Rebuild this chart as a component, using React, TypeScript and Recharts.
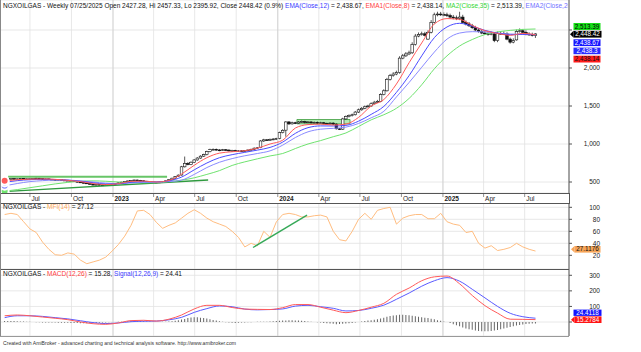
import React from 'react'
import {
    ComposedChart, Bar, Line, XAxis, YAxis, CartesianGrid, ReferenceLine, ReferenceArea
} from 'recharts'

// weekly bars, week 0 = 05/06/2022, last week 168 = 07/25/2025
const OPEN = [
    520, 528, 540, 546, 538, 542, 548, 541, 536, 542,
    546, 550, 544, 538, 541, 536, 532, 528, 531, 525,
    519, 522, 515, 508, 500, 494, 487, 480, 470, 463,
    468, 461, 457, 464, 467, 472, 480, 490, 498, 506,
    514, 521, 526, 522, 516, 510, 504, 500, 497, 494,
    499, 504, 515, 530, 550, 570, 592, 700, 745, 730,
    760, 790, 815, 840, 860, 900, 925, 930, 922, 918,
    925, 920, 910, 915, 905, 910, 905, 912, 920, 930,
    945, 952, 1040, 1055, 1050, 1060, 1065, 1072, 1150, 1182,
    1290, 1265, 1280, 1275, 1290, 1295, 1285, 1290, 1280, 1285,
    1275, 1280, 1270, 1265, 1275, 1262, 1200, 1195, 1330, 1360,
    1375, 1385, 1420, 1450, 1470, 1490, 1500, 1530, 1550, 1560,
    1650, 1700, 1850, 1900, 1920, 1940, 2130, 2160, 2185, 2200,
    2310, 2420, 2440, 2450, 2380, 2470, 2600, 2700, 2710, 2705,
    2700, 2690, 2670, 2660, 2650, 2670, 2600, 2580, 2555, 2530,
    2500, 2480, 2460, 2450, 2445, 2450, 2360, 2455, 2455, 2450,
    2380, 2340, 2370, 2480, 2490, 2470, 2445, 2440, 2427.28,
]
const HIGH = [
    534, 546, 552, 551, 547, 553, 552, 545, 547, 551,
    556, 554, 548, 546, 545, 540, 536, 536, 535, 529,
    527, 526, 519, 512, 504, 498, 491, 484, 474, 473,
    472, 465, 469, 472, 477, 485, 495, 503, 511, 519,
    526, 531, 531, 527, 521, 515, 509, 505, 502, 504,
    510, 521, 537, 557, 578, 600, 712, 835, 760, 772,
    802, 828, 852, 872, 912, 938, 942, 940, 932, 935,
    934, 930, 924, 924, 919, 918, 920, 928, 940, 955,
    960, 1050, 1068, 1066, 1072, 1078, 1082, 1162, 1195, 1300,
    1302, 1294, 1292, 1303, 1310, 1306, 1302, 1300, 1296, 1296,
    1292, 1290, 1282, 1286, 1286, 1272, 1210, 1345, 1375, 1390,
    1400, 1435, 1466, 1486, 1506, 1516, 1548, 1568, 1580, 1668,
    1720, 1870, 1922, 1945, 1965, 2155, 2185, 2210, 2228, 2338,
    2448, 2468, 2478, 2476, 2495, 2630, 2728, 2740, 2738, 2732,
    2728, 2715, 2698, 2690, 2740, 2700, 2625, 2605, 2580, 2555,
    2525, 2505, 2488, 2478, 2480, 2472, 2480, 2485, 2482, 2470,
    2400, 2390, 2505, 2520, 2512, 2495, 2470, 2465, 2457.33,
]
const LOW = [
    514, 522, 535, 533, 532, 536, 535, 530, 530, 536,
    540, 538, 532, 532, 530, 526, 522, 522, 519, 513,
    513, 509, 502, 494, 488, 481, 474, 464, 457, 457,
    455, 451, 452, 459, 462, 467, 475, 485, 493, 501,
    509, 516, 516, 510, 504, 498, 494, 491, 488, 489,
    494, 499, 510, 525, 545, 565, 585, 690, 720, 722,
    752, 780, 805, 830, 850, 890, 915, 912, 905, 908,
    910, 900, 900, 895, 895, 895, 895, 902, 910, 920,
    935, 945, 1028, 1040, 1040, 1050, 1055, 1062, 1140, 1096,
    1250, 1255, 1262, 1265, 1280, 1272, 1275, 1268, 1270, 1262,
    1265, 1260, 1255, 1255, 1250, 1190, 1184, 1185, 1320, 1350,
    1362, 1375, 1408, 1438, 1458, 1478, 1490, 1518, 1540, 1550,
    1640, 1690, 1835, 1885, 1905, 1925, 2115, 2145, 2170, 2185,
    2295, 2405, 2425, 2415, 2370, 2455, 2585, 2680, 2685, 2680,
    2670, 2650, 2640, 2630, 2630, 2585, 2560, 2540, 2515, 2485,
    2465, 2445, 2435, 2425, 2430, 2340, 2340, 2435, 2435, 2365,
    2320, 2325, 2360, 2465, 2455, 2430, 2425, 2415, 2395.92,
]
const CLOSE = [
    528, 540, 546, 538, 542, 548, 541, 536, 542, 546,
    550, 544, 538, 541, 536, 532, 528, 531, 525, 519,
    522, 515, 508, 500, 494, 487, 480, 470, 463, 468,
    461, 457, 464, 467, 472, 480, 490, 498, 506, 514,
    521, 526, 522, 516, 510, 504, 500, 497, 494, 499,
    504, 515, 530, 550, 570, 590, 700, 745, 730, 760,
    790, 815, 840, 860, 900, 925, 930, 922, 918, 925,
    920, 910, 915, 905, 910, 905, 912, 920, 930, 945,
    950, 1040, 1055, 1050, 1060, 1065, 1070, 1150, 1180, 1290,
    1265, 1280, 1275, 1290, 1295, 1285, 1290, 1280, 1285, 1275,
    1280, 1270, 1265, 1275, 1262, 1200, 1195, 1330, 1360, 1375,
    1385, 1420, 1450, 1470, 1490, 1500, 1530, 1550, 1560, 1650,
    1700, 1850, 1900, 1920, 1940, 2130, 2160, 2185, 2200, 2310,
    2420, 2440, 2450, 2430, 2470, 2600, 2700, 2710, 2705, 2700,
    2690, 2670, 2660, 2650, 2670, 2600, 2580, 2555, 2530, 2500,
    2480, 2460, 2450, 2445, 2450, 2360, 2455, 2455, 2450, 2380,
    2340, 2360, 2480, 2490, 2470, 2445, 2440, 2427.28, 2448.42,
]

// moving averages, read every 4th week
const EMA8 = [
    515, 530, 537, 540, 535, 522, 505, 480, 466, 478, 508, 512, 500,
    520, 605, 720, 820, 880, 898, 912, 945, 1000, 1050,
    1210, 1255, 1262, 1250, 1262, 1350, 1500, 1585,
    1790, 2070, 2330, 2580, 2650, 2640, 2560, 2490, 2455, 2430, 2455, 2438.14,
]
const EMA12 = [
    495, 518, 530, 535, 533, 525, 510, 490, 474, 475, 496, 505, 502,
    515, 565, 660, 750, 820, 860, 890, 920, 955, 1025,
    1140, 1215, 1238, 1237, 1245, 1300, 1390, 1495,
    1680, 1900, 2160, 2400, 2540, 2588, 2550, 2495, 2460, 2438, 2443, 2438.67,
]
const EMA20 = [
    450, 480, 505, 518, 525, 524, 515, 500, 485, 480, 488, 495, 498,
    505, 525, 600, 690, 760, 808, 845, 875, 910, 985,
    1085, 1160, 1195, 1206, 1222, 1270, 1345, 1430,
    1620, 1810, 2010, 2210, 2380, 2460, 2478, 2475, 2458, 2447, 2442, 2438.3,
]
const MA35 = [
    380, 400, 425, 450, 475, 495, 510, 515, 510, 500, 492, 490, 493,
    506, 524, 555, 600, 650, 718, 765, 805, 843, 875,
    940, 1000, 1045, 1096, 1145, 1230, 1318, 1385,
    1470, 1600, 1780, 1990, 2160, 2290, 2375, 2440, 2475, 2495, 2508, 2513.39,
]

// MFI(14), every 2nd week
const MFI = [
    88, 90, 88, 76, 64, 58, 42, 30, 21, 20, 24,
    22, 12, 6, 9, 12, 17, 27, 38, 52, 70, 94,
    95, 88, 75, 65, 70, 74, 82, 90, 96, 90, 82,
    76, 72, 68, 60, 50, 34, 40, 36, 60, 50, 76,
    88, 90, 88, 84, 84, 86, 87, 84, 60, 46, 44,
    60, 80, 90, 80, 95, 98, 100, 72, 82, 86, 88,
    88, 81, 81, 90, 76, 72, 70, 58, 60, 40, 32,
    36, 28, 30, 33, 40, 34, 30, 27.12,
]

// MACD(12,26) and signal, every 4th week; histogram weekly
const MACD = [
    40, 45, 40, 32, 24, 15, 0, -11, -15, -6, 9, 11, 6,
    18, 45, 84, 107, 107, 93, 83, 81, 80, 92,
    112, 112, 95, 76, 60, 74, 95, 120,
    178, 218, 265, 290, 295, 245, 170, 105, 57, 18, 17, 15.28,
]
const SIGNAL = [
    28, 40, 40, 36, 28, 20, 8, -4, -10, -6, 2, 5, 6,
    14, 30, 62, 86, 103, 98, 83, 78, 80, 84,
    102, 107, 98, 88, 71, 74, 88, 108,
    146, 186, 230, 265, 285, 262, 210, 155, 100, 56, 34, 24.41,
]
const HIST = [
    6, 7, 7, 6, 5, 4, 3, 2, 1, 0,
    -1, -2, -3, -3, -4, -4, -4, -5, -5, -5,
    -5, -6, -7, -7, -8, -8, -8, -7, -7, -6,
    -5, -4, -3, -2, -1, 0, 1, 2, 4, 5,
    6, 6, 6, 5, 5, 4, 3, 1, 0, 0,
    1, 2, 3, 5, 8, 12, 16, 20, 25, 29,
    31, 30, 28, 25, 22, 18, 13, 9, 5, 2,
    -2, -4, -5, -6, -5, -4, -3, -2, -1, 0,
    1, 1, 1, 2, 3, 5, 7, 8, 9, 10,
    11, 11, 10, 9, 8, 6, 4, 2, 0, -2,
    -4, -6, -8, -10, -12, -14, -13, -12, -10, -8,
    -6, -3, 0, 3, 6, 9, 12, 15, 18, 22,
    28, 33, 38, 42, 44, 46, 46, 45, 43, 40,
    37, 34, 31, 28, 25, 21, 17, 12, 8, 4,
    0, -7, -14, -21, -28, -35, -41, -46, -50, -54,
    -57, -59, -60, -60, -58, -55, -51, -47, -42, -37,
    -32, -27, -23, -19, -16, -13, -11, -10, -9.13,
]

// quarter marks (in weeks from 05/06/2022)
const QTR_POS = [8.0, 21.14, 34.29, 47.14, 60.14, 73.29, 86.43, 99.43, 112.43, 125.57, 138.71, 151.57, 164.57]
const QTR_LABELS = ['Jul', 'Oct', '2023', 'Apr', 'Jul', 'Oct', '2024', 'Apr', 'Jul', 'Oct', '2025', 'Apr', 'Jul']
const YEAR_POS = [34.29, 86.43, 138.71]

// hand-drawn studies: [week, value] pairs
const RESIST_LINE = [[1.1, 570], [51.4, 570]]
const SUPPORT_LINE = [[-0.4, 373], [64.4, 526]]
const BOX_2024 = { x1: 92.5, x2: 109.3, y1: 1265, y2: 1322 }
const MFI_LINE = [[78.6, 33], [95.7, 87]]

const X_DOMAIN: [number, number] = [-1.47, 178.6]
const FONT = '"Liberation Sans", Arial, sans-serif'
const AXIS = '#555'
const GRID = '#e2e2e2'

const priceRows = CLOSE.map((c, i) => ({
    i, o: OPEN[i], h: HIGH[i], l: LOW[i], c,
    range: [LOW[i], HIGH[i]],
    ema8: i % 4 === 0 ? EMA8[i / 4] : undefined,
    ema12: i % 4 === 0 ? EMA12[i / 4] : undefined,
    ema20: i % 4 === 0 ? EMA20[i / 4] : undefined,
    ma35: i % 4 === 0 ? MA35[i / 4] : undefined,
}))
const mfiRows = MFI.map((v, k) => ({ i: k * 2, mfi: v }))
const macdRows = HIST.map((h, i) => ({
    i, hist: h,
    macd: i % 4 === 0 ? MACD[i / 4] : undefined,
    signal: i % 4 === 0 ? SIGNAL[i / 4] : undefined,
}))

function Candle(props: any) {
    const { x, y, width, height, payload } = props
    if (!payload || payload.h == null || x == null) return <g />
    const { o, h, l, c } = payload
    const top = Math.min(y, y + height)
    const span = Math.abs(height)
    const k = h > l ? span / (h - l) : 0
    const yo = top + (h - o) * k
    const yc = top + (h - c) * k
    const cx = x + width / 2
    const bodyTop = Math.min(yo, yc)
    const bodyH = Math.max(Math.abs(yo - yc), 0.8)
    const up = c >= o
    return (
        <g>
            <line x1={cx} x2={cx} y1={top} y2={top + span} stroke="#111" strokeWidth={0.7} />
            <rect x={cx - 1.3} y={bodyTop} width={2.6} height={bodyH}
                fill={up ? '#fff' : '#111'} stroke="#111" strokeWidth={0.6} />
        </g>
    )
}

const makeValueTick = (fmt: (v: number) => string, hide: number[] = []) => (props: any) => {
    const { y, payload } = props
    if (hide.includes(payload.value)) return <g />
    return (
        <text x={600} y={y + 2.3} textAnchor="end" fontSize={6.5} fontFamily={FONT} fill="#222">
            {fmt(payload.value)}
        </text>
    )
}

function DateTick(props: any) {
    const { x, payload } = props
    let k = 0
    QTR_POS.forEach((p, j) => { if (Math.abs(p - payload.value) < Math.abs(QTR_POS[k] - payload.value)) k = j })
    const lab = QTR_LABELS[k]
    const isYear = /^\d{4}$/.test(lab)
    return (
        <g>
            <line x1={x} x2={x} y1={194} y2={197} stroke="#777" strokeWidth={0.8} />
            <text x={x + 1.5} y={200.5} fontSize={6.5} fontFamily={FONT}
                fontWeight={isYear ? 'bold' : 'normal'} fill="#222">{lab}</text>
        </g>
    )
}

function Badge({ x, y, w, h, bg, fg, text, arrow }: any) {
    return (
        <g>
            {arrow && <polygon points={`${x - 3.5},${y + h / 2} ${x},${y} ${x},${y + h}`} fill={bg} />}
            <rect x={x} y={y} width={w} height={h} fill={bg} />
            <text x={x + w / 2} y={y + h - 1.3} textAnchor="middle" fontSize={6.3}
                fontFamily={FONT} fill={fg}>{text}</text>
        </g>
    )
}

export default function App() {
    const pane = (top: number): React.CSSProperties => ({ position: 'absolute', left: 0, top })
    return (
        <div style={{ position: 'absolute', left: 0, top: 0, width: 641, height: 352, background: '#fff', overflow: 'hidden' }}>
            <div style={pane(0)}>
                <ComposedChart width={641} height={204} data={priceRows}
                    margin={{ top: 0, right: 0, bottom: 0, left: 0 }}>
                    <CartesianGrid stroke={GRID} strokeWidth={0.8} />
                    <XAxis dataKey="i" type="number" domain={X_DOMAIN} ticks={QTR_POS} interval={0}
                        allowDataOverflow height={11} axisLine={false} tickLine={false} tick={<DateTick />} />
                    <YAxis orientation="right" type="number" width={72} domain={[355.3, 2894.7]}
                        ticks={[500, 1000, 1500, 2000, 2500]} allowDataOverflow interval={0}
                        axisLine={{ stroke: AXIS }} tickLine={{ stroke: AXIS }} tickSize={3}
                        tick={makeValueTick(v => v.toLocaleString('en-US'), [2500])} />
                    {YEAR_POS.map(p => <ReferenceLine key={p} x={p} stroke="#cfcfcf" strokeWidth={0.8} />)}
                    <ReferenceLine segment={RESIST_LINE.map(([x, y]) => ({ x, y }))} stroke="#4cbb4c" strokeWidth={2} strokeOpacity={0.85} />
                    <ReferenceLine segment={SUPPORT_LINE.map(([x, y]) => ({ x, y }))} stroke="#2f9a3f" strokeWidth={1.4} />
                    <ReferenceArea x1={BOX_2024.x1} x2={BOX_2024.x2} y1={BOX_2024.y1} y2={BOX_2024.y2}
                        fill="#a8e6a8" fillOpacity={0.85} stroke="#3a9a3a" strokeWidth={0.8} />
                    <Line dataKey="ma35" type="monotone" stroke="#6fe36f" strokeWidth={1} dot={false} connectNulls isAnimationActive={false} />
                    <Line dataKey="ema20" type="monotone" stroke="#8a8aff" strokeWidth={1} dot={false} connectNulls isAnimationActive={false} />
                    <Line dataKey="ema12" type="monotone" stroke="#4b4bff" strokeWidth={1} dot={false} connectNulls isAnimationActive={false} />
                    <Line dataKey="ema8" type="monotone" stroke="#ff5a5a" strokeWidth={1} dot={false} connectNulls isAnimationActive={false} />
                    <Bar dataKey="range" barSize={3} shape={<Candle />} isAnimationActive={false} />
                </ComposedChart>
            </div>

            <div style={pane(203)}>
                <ComposedChart width={641} height={66} data={mfiRows}
                    margin={{ top: 0, right: 0, bottom: 0, left: 0 }}>
                    <CartesianGrid stroke={GRID} strokeWidth={0.8} />
                    <XAxis dataKey="i" type="number" domain={X_DOMAIN} ticks={QTR_POS} interval={0}
                        allowDataOverflow hide />
                    <YAxis orientation="right" type="number" width={72} domain={[-2.8, 107.2]}
                        ticks={[20, 40, 60, 80, 100]} allowDataOverflow interval={0}
                        axisLine={{ stroke: AXIS }} tickLine={{ stroke: AXIS }} tickSize={3}
                        tick={makeValueTick(v => String(v))} />
                    {YEAR_POS.map(p => <ReferenceLine key={p} x={p} stroke="#cfcfcf" strokeWidth={0.8} />)}
                    <Line dataKey="mfi" type="linear" stroke="#ffbd80" strokeWidth={1} dot={false} isAnimationActive={false} />
                    <ReferenceLine segment={MFI_LINE.map(([x, y]) => ({ x, y }))} stroke="#36a958" strokeWidth={1.4} />
                </ComposedChart>
            </div>

            <div style={pane(269)}>
                <ComposedChart width={641} height={67} data={macdRows}
                    margin={{ top: 0, right: 0, bottom: 0, left: 0 }}>
                    <CartesianGrid stroke={GRID} strokeWidth={0.8} />
                    <XAxis dataKey="i" type="number" domain={X_DOMAIN} ticks={QTR_POS} interval={0}
                        allowDataOverflow hide />
                    <YAxis orientation="right" type="number" width={72} domain={[-89.9, 340.4]}
                        ticks={[0, 100, 200, 300]} allowDataOverflow interval={0}
                        axisLine={{ stroke: AXIS }} tickLine={{ stroke: AXIS }} tickSize={3}
                        tick={makeValueTick(v => String(v), [0])} />
                    {YEAR_POS.map(p => <ReferenceLine key={p} x={p} stroke="#cfcfcf" strokeWidth={0.8} />)}
                    <Bar dataKey="hist" barSize={1} fill="#666" isAnimationActive={false} />
                    <Line dataKey="signal" type="monotone" stroke="#5a5aff" strokeWidth={1} dot={false} connectNulls isAnimationActive={false} />
                    <Line dataKey="macd" type="monotone" stroke="#ff5a5a" strokeWidth={1} dot={false} connectNulls isAnimationActive={false} />
                </ComposedChart>
            </div>

            <svg width={641} height={352} style={{ position: 'absolute', left: 0, top: 0, pointerEvents: 'none' }}
                fontFamily={FONT}>
                <defs>
                    <clipPath id="plotClip"><rect x={0} y={0} width={568} height={352} /></clipPath>
                </defs>
                <g stroke="#555" strokeWidth={1}>
                    <line x1={0} x2={569} y1={193.5} y2={193.5} />
                    <line x1={0} x2={569} y1={203.5} y2={203.5} />
                    <line x1={0} x2={569} y1={269.5} y2={269.5} />
                    <line x1={0} x2={569} y1={336.5} y2={336.5} stroke="#999" />
                    <line x1={0.5} x2={0.5} y1={0} y2={336} stroke="#888" />
                    <line x1={569.5} x2={569.5} y1={193} y2={204} />
                </g>

                <text x={3} y={7.5} fontSize={6.5} fill="#111" clipPath="url(#plotClip)">
                    <tspan>NGXOILGAS - Weekly 07/25/2025 Open 2427.28, Hi 2457.33, Lo 2395.92, Close 2448.42 (0.9%) </tspan>
                    <tspan fill="#3b3bff">EMA(Close,12)</tspan>
                    <tspan> = 2,438.67, </tspan>
                    <tspan fill="#ff4040">EMA1(Close,8)</tspan>
                    <tspan> = 2,438.14, </tspan>
                    <tspan fill="#33d633">MA2(Close,35)</tspan>
                    <tspan> = 2,513.39, </tspan>
                    <tspan fill="#7070ff">EMA2(Close,20)</tspan>
                    <tspan> = 2,438.30</tspan>
                </text>
                <text x={3} y={208.5} fontSize={6.5} fill="#111">
                    <tspan>NGXOILGAS - </tspan>
                    <tspan fill="#ffaa55">MFI(14)</tspan>
                    <tspan> = 27.12</tspan>
                </text>
                <text x={3} y={275.5} fontSize={6.5} fill="#111">
                    <tspan>NGXOILGAS - </tspan>
                    <tspan fill="#ff4040">MACD(12,26)</tspan>
                    <tspan> = 15.28, </tspan>
                    <tspan fill="#4040ff">Signal(12,26,9)</tspan>
                    <tspan> = 24.41</tspan>
                </text>
                <text x={3} y={345} fontSize={5.3} fill="#333" textLength={233} lengthAdjust="spacingAndGlyphs">
                    Created with AmiBroker - advanced charting and technical analysis software. http://www.amibroker.com
                </text>

                <Badge x={573.5} y={23} w={27} h={7} bg="#18e018" fg="#000" text="2,513.39" />
                <Badge x={573.5} y={30.8} w={28} h={6.8} bg="#000" fg="#fff" text="2,448.42" arrow />
                <Badge x={573.5} y={39.3} w={27} h={6.8} bg="#1414ff" fg="#fff" text="2,438.67" />
                <Badge x={573.5} y={47.6} w={27} h={6.6} bg="#2a2aff" fg="#fff" text="2,438.3" />
                <Badge x={573.5} y={55.7} w={27} h={6.8} bg="#ff1a1a" fg="#111" text="2,438.14" />
                <Badge x={574.5} y={246} w={26} h={6.6} bg="#f6a458" fg="#111" text="27.1176" arrow />
                <Badge x={573.5} y={309.6} w={28} h={6.3} bg="#1414ff" fg="#fff" text="24.4118" />
                <Badge x={574.5} y={316.4} w={27} h={6.6} bg="#ff1414" fg="#fff" text="15.2784" arrow />
            </svg>
        </div>
    )
}
